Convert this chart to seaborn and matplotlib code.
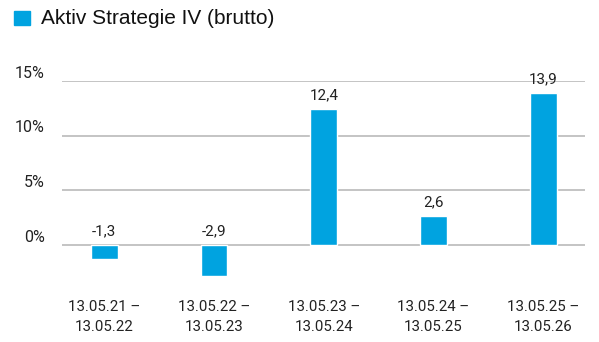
import matplotlib
matplotlib.use("Agg")
import matplotlib.pyplot as plt
import seaborn as sns
import pandas as pd

periods = ["13.05.21 –\n13.05.22", "13.05.22 –\n13.05.23", "13.05.23 –\n13.05.24",
           "13.05.24 –\n13.05.25", "13.05.25 –\n13.05.26"]
returns = [-1.3, -2.9, 12.4, 2.6, 13.9]
y_ticks = [0, 5, 10, 15]
series_name = "Aktiv Strategie IV (brutto)"

bar_color = "#00a3e0"
df = pd.DataFrame({"period": periods, "value": returns})

sns.set_style("white")
plt.rcParams["font.family"] = ["Roboto", "DejaVu Sans"]

fig = plt.figure(figsize=(5.99, 3.42), dpi=100)
ax = fig.add_axes([62 / 599, 1 - 283 / 342, (585 - 62) / 599, (283 - 81) / 342])

sns.barplot(data=df, x="period", y="value", color=bar_color, width=0.245,
            saturation=1, ax=ax)

ax.set_xlim(-0.385, 4.38)
ax.set_ylim(-3.5, 15)
ax.set_yticks(y_ticks)
ax.set_yticklabels([])
for t in y_ticks:
    ax.axhline(t, color="#c4c4c4", lw=1.4, zorder=0)
    ax.annotate(f"{t}%", xy=(0, t), xycoords=("axes fraction", "data"),
                xytext=(-12.5, 5.5), textcoords="offset points", ha="right", va="center",
                fontsize=11.5, color="#222222")

for i, v in enumerate(returns):
    base = max(v, 0)
    ax.annotate(f"{v:.1f}".replace(".", ","), xy=(i, base), xytext=(0, 10),
                textcoords="offset points", ha="center", va="center",
                fontsize=11, color="#222222")

ax.set_xlabel("")
ax.set_ylabel("")
ax.tick_params(axis="x", length=0, pad=12, labelsize=10.8, labelcolor="#222222")
ax.tick_params(axis="y", length=0)
for lab in ax.get_xticklabels():
    lab.set_multialignment("center")
    lab.set_linespacing(1.6)
for s in ax.spines.values():
    s.set_visible(False)

fig.patches.append(plt.Rectangle((14 / 599, 1 - 25 / 342), 16 / 599, 14 / 342,
                                 transform=fig.transFigure, color=bar_color))
fig.text(41 / 599, 1 - 18 / 342, series_name, fontsize=15, va="center", ha="left",
         family=["Liberation Sans", "DejaVu Sans"], color="#111111")

fig.savefig("out.png", dpi=100, facecolor="white")
